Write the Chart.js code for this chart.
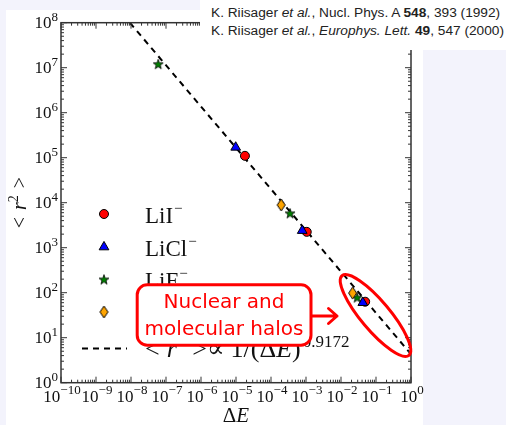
<!DOCTYPE html>
<html><head><meta charset="utf-8">
<script src="https://cdn.jsdelivr.net/npm/chart.js@4.4.1/dist/chart.umd.min.js"></script>
<style>
html,body{margin:0;padding:0;background:#F3F3FC;width:506px;height:425px;overflow:hidden;}
#panel{position:absolute;left:6px;top:10px;width:417px;height:415px;background:#fff;}
#wrap{position:absolute;left:0;top:0;width:506px;height:425px;}
#cite{position:absolute;left:200px;top:0;width:306px;height:50px;background:#fff;font-family:"Liberation Sans",Arial,sans-serif;font-size:13.7px;color:#222;}
#cite div{position:absolute;left:11px;white-space:nowrap;line-height:16px;}
</style></head>
<body>
<div id="panel"></div>
<div id="wrap"><canvas id="c" width="506" height="425"></canvas></div>
<div id="cite">
<div style="top:5px">K. Riisager <i>et al.</i>, Nucl. Phys. A <b>548</b>, 393 (1992)</div>
<div style="top:23px">K. Riisager <i>et al.</i>, <i>Europhys. Lett.</i> <b>49</b>, 547 (2000)</div>
</div>
<script>
// ---- data ----
const seriesNames = ['LiI', 'LiCl', 'LiF', 'Halo nuclei'];
const liiX  = [1.8e-5, 1.05e-3, 4.9e-2];
const liiY  = [1.1e5, 2.25e3, 63];
const liclX = [9.8e-6, 7.8e-4, 4.2e-2];
const liclY = [1.7e5, 2.4e3, 60];
const lifX  = [6.0e-8, 3.5e-4, 2.9e-2];
const lifY  = [1.2e7, 5.8e3, 78];
const nucX  = [1.95e-4, 2.15e-2];
const nucY  = [8.9e3, 98];
const fitX  = [9.3e-9, 1];
const fitY  = [1e8, 4.3];
const fitExponent = '0.9172';
const xTickExps = [-10,-9,-8,-7,-6,-5,-4,-3,-2,-1,0];
const yTickExps = [0,1,2,3,4,5,6,7,8];
const boxLines = ['Nuclear and', 'molecular halos'];

// ---- helpers ----
const SERIF = '"Liberation Serif","DejaVu Serif",serif';
const pts = (xs, ys) => xs.map((x, i) => ({x: x, y: ys[i]}));
function makeStar(fill){
  const c=document.createElement('canvas'); c.width=12; c.height=12;
  const g=c.getContext('2d'); g.beginPath();
  for(let i=0;i<10;i++){const r=i%2?2.1:5.2; const an=-Math.PI/2+i*Math.PI/5;
    const px=6+r*Math.cos(an), py=6.4+r*Math.sin(an); i?g.lineTo(px,py):g.moveTo(px,py);}
  g.closePath(); g.fillStyle=fill; g.fill(); g.lineWidth=0.8; g.strokeStyle='#000'; g.stroke(); return c;
}
function makeDiamond(fill){
  const c=document.createElement('canvas'); c.width=11; c.height=14;
  const g=c.getContext('2d'); g.beginPath();
  g.moveTo(5.5,1); g.lineTo(9.5,7); g.lineTo(5.5,13); g.lineTo(1.5,7); g.closePath();
  g.fillStyle=fill; g.fill(); g.lineWidth=1; g.strokeStyle='#000'; g.stroke(); return c;
}
const starImg = makeStar('#008000');
const diamondImg = makeDiamond('#FFA500');
function expText(e){ return (e<0?'\u2212':'') + Math.abs(e); }
function drawRich(ctx, x, y, segs, align){
  let total=0;
  segs.forEach(s=>{ if(s.gap!==undefined){s.w=s.gap;} else {ctx.font=s.f; s.w=ctx.measureText(s.t).width;} total+=s.w; });
  let cx = align==='right' ? x-total : (align==='center' ? x-total/2 : x);
  segs.forEach(s=>{ if(s.t){ctx.font=s.f; ctx.fillText(s.t, cx, y+(s.dy||0));} cx+=s.w; });
  return total;
}

const pointSets = [
  {label: seriesNames[0], data: pts(liiX, liiY), pointStyle:'circle', pointRadius:4.5, backgroundColor:'#FF0000', borderColor:'#000', borderWidth:1, order:4},
  {label: seriesNames[1], data: pts(liclX, liclY), pointStyle:'triangle', pointRadius:5.6, backgroundColor:'#0000FF', borderColor:'#000', borderWidth:1, order:3},
  {label: seriesNames[2], data: pts(lifX, lifY), pointStyle:starImg, pointRadius:5, backgroundColor:'#008000', borderColor:'#000', borderWidth:1, order:2},
  {label: seriesNames[3], data: pts(nucX, nucY), pointStyle:diamondImg, pointRadius:5, backgroundColor:'#FFA500', borderColor:'#000', borderWidth:1, order:1}
];
const fitSet = {label:'fit', data: pts(fitX, fitY), showLine:true, borderColor:'#000', borderWidth:2, borderDash:[6,5], pointRadius:0, order:5};

const deco = {
  id:'deco',
  afterDraw(chart){
    const ctx=chart.ctx, a=chart.chartArea, xs=chart.scales.x, ys=chart.scales.y;
    ctx.save();
    // ticks (inward, all sides)
    ctx.strokeStyle='#333'; ctx.lineWidth=1;
    const xt=[], yt=[];
    xTickExps.forEach(e=>{ xt.push([Math.pow(10,e),6]); if(e<0) for(let m=2;m<10;m++) xt.push([m*Math.pow(10,e),3]); });
    yTickExps.forEach(e=>{ yt.push([Math.pow(10,e),6]); if(e<8) for(let m=2;m<10;m++) yt.push([m*Math.pow(10,e),3]); });
    ctx.beginPath();
    xt.forEach(([v,l])=>{ const p=xs.getPixelForValue(v); ctx.moveTo(p,a.bottom); ctx.lineTo(p,a.bottom-l); ctx.moveTo(p,a.top); ctx.lineTo(p,a.top+l); });
    yt.forEach(([v,l])=>{ const p=ys.getPixelForValue(v); ctx.moveTo(a.left,p); ctx.lineTo(a.left+l,p); ctx.moveTo(a.right,p); ctx.lineTo(a.right-l,p); });
    ctx.stroke();
    // spines
    ctx.lineWidth=1.5; ctx.strokeStyle='#333';
    ctx.strokeRect(a.left, a.top, a.right-a.left, a.bottom-a.top);
    // tick labels
    ctx.fillStyle='#111'; ctx.textAlign='left'; ctx.textBaseline='alphabetic';
    yTickExps.forEach(e=>{ const p=ys.getPixelForValue(Math.pow(10,e));
      drawRich(ctx, a.left-3, p+5, [{t:'10',f:'17px '+SERIF},{t:expText(e),f:'13px '+SERIF,dy:-7}], 'right'); });
    xTickExps.forEach(e=>{ const p=xs.getPixelForValue(Math.pow(10,e));
      drawRich(ctx, p+1, a.bottom+19, [{t:'10',f:'17px '+SERIF},{t:expText(e),f:'13px '+SERIF,dy:-8}], 'center'); });
    // axis titles
    drawRich(ctx, (a.left+a.right)/2, a.bottom+39, [{t:'\u0394',f:'21px '+SERIF},{t:'E',f:'italic 21px '+SERIF}], 'center');
    ctx.save(); ctx.translate(26,(a.top+a.bottom)/2); ctx.rotate(-Math.PI/2);
    drawRich(ctx, 0, 0, [{t:'<',f:'20px '+SERIF},{gap:7},{t:'r',f:'italic 20px '+SERIF},{t:'2',f:'14px '+SERIF,dy:-8},{gap:7},{t:'>',f:'20px '+SERIF}], 'center');
    ctx.restore();
    // legend
    const lx=104, tx=145, rows=[214,247,279.5,312];
    pointSets.forEach((ds,i)=>{
      ctx.save(); ctx.fillStyle=ds.backgroundColor; ctx.strokeStyle=ds.borderColor; ctx.lineWidth=ds.borderWidth;
      Chart.helpers.drawPoint(ctx,{pointStyle:ds.pointStyle,radius:ds.pointRadius,rotation:0,borderWidth:1},lx,rows[i]);
      ctx.restore();
      ctx.fillStyle='#111';
      const segs=[{t:ds.label,f:'23px '+SERIF}];
      if(i<3) segs.push({gap:1},{t:'\u2212',f:'15px '+SERIF,dy:-10});
      drawRich(ctx, tx, rows[i]+8.5, segs, 'left');
    });
    ctx.save(); ctx.strokeStyle='#000'; ctx.lineWidth=2; ctx.setLineDash([6,5]);
    ctx.beginPath(); ctx.moveTo(82,348.5); ctx.lineTo(127,348.5); ctx.stroke(); ctx.restore();
    ctx.fillStyle='#111';
    drawRich(ctx, tx, 356.7, [
      {t:'<',f:'26px '+SERIF},{gap:7},{t:'r',f:'italic 26px '+SERIF},{t:'2',f:'17px '+SERIF,dy:-11},{gap:7},
      {t:'>',f:'26px '+SERIF},{t:'\u221D',f:'26px '+SERIF},{gap:6},{t:'1/(',f:'26px '+SERIF},
      {t:'\u0394',f:'26px '+SERIF},{t:'E',f:'italic 26px '+SERIF},{t:')',f:'26px '+SERIF},{gap:2},
      {t:fitExponent,f:'17px '+SERIF,dy:-10}], 'left');
    // annotation box
    ctx.strokeStyle='#FF0000'; ctx.fillStyle='#fff'; ctx.lineWidth=3;
    ctx.beginPath(); ctx.roundRect(137.2,284.8,173.8,60.4,10); ctx.fill(); ctx.stroke();
    ctx.fillStyle='#FF0000'; ctx.textAlign='center';
    ctx.font='20px "DejaVu Sans",sans-serif';
    ctx.fillText(boxLines[0],224,308.3);
    ctx.fillText(boxLines[1],224,335);
    // arrow
    ctx.lineCap='round'; ctx.lineJoin='round';
    ctx.beginPath(); ctx.moveTo(312,316); ctx.lineTo(337,316);
    ctx.moveTo(328.5,308.5); ctx.lineTo(337,316); ctx.lineTo(328.5,323.5); ctx.stroke();
    // ellipse
    ctx.beginPath(); ctx.ellipse(375.5,315.5,52,14.5,50*Math.PI/180,0,2*Math.PI); ctx.stroke();
    ctx.restore();
  }
};

new Chart(document.getElementById('c'), {
  type:'scatter',
  data:{datasets:[...pointSets, fitSet]},
  options:{
    responsive:false, animation:false, events:[],
    layout:{padding:{left:0,top:22.7,right:95,bottom:0}},
    plugins:{legend:{display:false},tooltip:{enabled:false}},
    scales:{
      x:{type:'logarithmic',min:1e-10,max:1,grid:{display:false},border:{display:false},ticks:{display:false},
         afterBuildTicks(s){ s.ticks = xTickExps.map(e=>({value:Math.pow(10,e)})); },
         afterFit(s){ s.height = 42.3; }},
      y:{type:'logarithmic',min:1,max:1e8,grid:{display:false},border:{display:false},ticks:{display:false},
         afterBuildTicks(s){ s.ticks = yTickExps.map(e=>({value:Math.pow(10,e)})); },
         afterFit(s){ s.width = 61; }}
    }
  },
  plugins:[deco]
});
</script>
</body></html>
